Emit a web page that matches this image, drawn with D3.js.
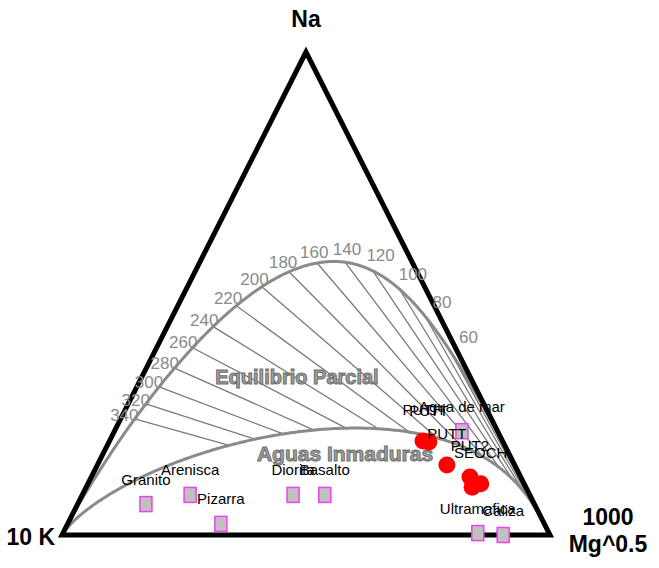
<!DOCTYPE html>
<html>
<head>
<meta charset="utf-8">
<script src="https://cdn.jsdelivr.net/npm/d3@7"></script>
<style>
  html, body { margin: 0; padding: 0; background: #ffffff; }
  svg { display: block; font-family: "Liberation Sans", Arial, Helvetica, sans-serif; }
</style>
</head>
<body>
<svg id="chart" width="659" height="568"></svg>
<script>
// Isotherms (°C) marked along the full-equilibrium line
const isotherms = [340, 320, 300, 280, 260, 240, 220, 200, 180, 160, 140, 120, 100, 80, 60];

// Isochemical rock dissolution compositions (% of Na/1000, K/100, Mg^0.5)
const rockNames = ["Granito", "Arenisca", "Pizarra", "Diorita", "Basalto", "Ultramafica", "Caliza", "Agua de mar"];
const rockNa = [6.4, 8.3, 2.3, 8.3, 8.3, 0.4, 0.0, 21.5];
const rockK  = [79.6, 69.6, 66.3, 48.5, 42.0, 14.6, 9.6, 7.3];
const rockMg = [14.0, 22.1, 31.4, 43.2, 49.7, 85.0, 90.4, 71.2];

// Water samples (% of Na/1000, K/100, Mg^0.5)
const sampleNames = ["PUTH", "PUTT", "PUTT", "PUT2", "SEOCH", ""];
const sampleNa = [19.5, 19.3, 14.5, 12.0, 10.6, 9.9];
const sampleK  = [16.3, 15.2, 13.9, 10.4, 8.9, 11.0];
const sampleMg = [64.3, 65.6, 71.7, 77.6, 80.6, 79.1];

// Corner titles
const titleNa = "Na";
const titleK = "10 K";
const titleMg = ["1000", "Mg^0.5"];

// Field labels
const fieldLabels = ["Equilibrio Parcial", "Aguas Inmaduras"];

const svg = d3.select("#chart");

// Ternary projection: Na at apex, K bottom-left, Mg bottom-right
const xScale = d3.scaleLinear().domain([0, 1]).range([62, 550]);
const yScale = d3.scaleLinear().domain([0, 1]).range([535, 52]);
function project(na, k, mg) {
  const s = na + k + mg;
  const a = na / s, c = mg / s;
  return [xScale(c + a / 2), yScale(a)];
}
const vNa = project(1, 0, 0), vK = project(0, 1, 0), vMg = project(0, 0, 1);

// Giggenbach (1988) geothermometers
function fromRatios(naK, k2mg) {
  // components Na/1000 : K/100 : sqrt(Mg), with K/100 fixed at 1
  return project(naK / 10, 1, 100 / Math.sqrt(k2mg));
}
function fullEquilibrium(tC) {
  const T = tC + 273.15;
  return fromRatios(Math.pow(10, 1390 / T - 1.75), Math.pow(10, 14.0 - 4410 / T));
}
function immatureLimit(tC) {
  const T = tC + 273.15;
  const lkn = 1.75 - 1390 / T;          // log(K/Na)
  const lkm = (2.0 + lkn) / 0.315;      // maturity index = 2.0
  return fromRatios(Math.pow(10, -lkn), Math.pow(10, lkm));
}

const u = d3.range(0.3, 5.31, 0.005);   // 1000/T(K)
const tSweep = u.map(v => 1000 / v - 273.15);
const upperPts = [vK, ...tSweep.map(fullEquilibrium), vMg];
const lowerPts = [vK, ...tSweep.map(immatureLimit), vMg];

const line = d3.line().curve(d3.curveLinear);

// Na-K isotherms between the two curves
svg.append("g")
  .selectAll("line")
  .data(isotherms)
  .join("line")
  .attr("x1", t => fullEquilibrium(t)[0])
  .attr("y1", t => fullEquilibrium(t)[1])
  .attr("x2", t => immatureLimit(t)[0])
  .attr("y2", t => immatureLimit(t)[1])
  .attr("stroke", "#7a7a7a")
  .attr("stroke-width", 1.3);

// Full equilibrium and immature-water curves
svg.append("path").attr("d", line(upperPts))
  .attr("fill", "none").attr("stroke", "#8a8a8a").attr("stroke-width", 3);
svg.append("path").attr("d", line(lowerPts))
  .attr("fill", "none").attr("stroke", "#8a8a8a").attr("stroke-width", 3);

// Triangle frame
svg.append("path")
  .attr("d", line([vNa, vK, vMg]) + "Z")
  .attr("fill", "none")
  .attr("stroke", "#000")
  .attr("stroke-width", 5)
  .attr("stroke-linejoin", "miter");

// Isotherm labels: on the hot side they continue the isotherm, on the
// cool side they sit off the curve along its outward normal
svg.append("g")
  .selectAll("text")
  .data(isotherms)
  .join("text")
  .each(function (t) {
    const p = fullEquilibrium(t);
    const p1 = fullEquilibrium(t + 2), p2 = fullEquilibrium(t - 2);
    let dx = p2[0] - p1[0], dy = p2[1] - p1[1];
    const len = Math.hypot(dx, dy);
    dx /= len; dy /= len;
    let nx = dy, ny = -dx;
    if (ny > 0) { nx = -nx; ny = -ny; }
    let ix = p[0] - vMg[0], iy = p[1] - vMg[1];
    const il = Math.hypot(ix, iy);
    ix /= il; iy /= il;
    let ox, oy, d;
    if (nx >= 0) {
      ox = nx; oy = ny; d = 11 + 14 * nx;
    } else {
      const w = -nx;
      ox = nx * (1 - w) + ix * w; oy = ny * (1 - w) + iy * w;
      const ol = Math.hypot(ox, oy);
      ox /= ol; oy /= ol; d = 11;
    }
    d3.select(this)
      .attr("x", p[0] + ox * d)
      .attr("y", p[1] + oy * d)
      .attr("dy", "0.35em");
  })
  .attr("text-anchor", "middle")
  .attr("font-size", 17)
  .attr("fill", "#8a8a8a")
  .text(t => t);

// Field labels
const fieldPos = [project(32.7, 35.5, 31.8), project(16.8, 33.6, 49.6)];
svg.append("g")
  .selectAll("text")
  .data(fieldLabels)
  .join("text")
  .attr("x", (d, i) => fieldPos[i][0])
  .attr("y", (d, i) => fieldPos[i][1])
  .attr("dy", "0.35em")
  .attr("text-anchor", "middle")
  .attr("font-size", (d, i) => i === 0 ? 20 : 21)
  .attr("font-weight", "bold")
  .attr("fill", "#a0a0a0")
  .attr("stroke", "#6e6e6e")
  .attr("stroke-width", 1)
  .text(d => d);

// Rock compositions
const rocks = rockNames.map((n, i) => ({ name: n, p: project(rockNa[i], rockK[i], rockMg[i]) }));
const rg = svg.append("g");
rg.selectAll("rect")
  .data(rocks)
  .join("rect")
  .attr("x", d => d.p[0] - 6)
  .attr("y", d => d.p[1] - 7.5)
  .attr("width", 12)
  .attr("height", 15)
  .attr("fill", "#c0c0c0")
  .attr("stroke", "#f040f0")
  .attr("stroke-width", 1.5);

// Water samples
const samples = sampleNames.map((n, i) => ({ name: n, p: project(sampleNa[i], sampleK[i], sampleMg[i]) }));
svg.append("g")
  .selectAll("circle")
  .data(samples)
  .join("circle")
  .attr("cx", d => d.p[0])
  .attr("cy", d => d.p[1])
  .attr("r", 8.5)
  .attr("fill", "#ff0000");

// Point labels
rg.selectAll("text")
  .data(rocks)
  .join("text")
  .attr("x", d => d.p[0])
  .attr("y", d => d.p[1] - 19.5)
  .attr("text-anchor", "middle")
  .attr("font-size", 15)
  .attr("fill", "#000")
  .text(d => d.name);

svg.append("g")
  .selectAll("text")
  .data(samples)
  .join("text")
  .attr("x", d => d.p[0])
  .attr("y", d => d.p[1] - 26)
  .attr("text-anchor", "middle")
  .attr("font-size", 15)
  .attr("fill", "#000")
  .text(d => d.name);

// Corner titles
const tg = svg.append("g").attr("font-weight", "bold").attr("font-size", 23).attr("fill", "#000");
tg.append("text").attr("x", vNa[0]).attr("y", vNa[1] - 25).attr("text-anchor", "middle").text(titleNa);
tg.append("text").attr("x", vK[0] - 7).attr("y", vK[1] + 10).attr("text-anchor", "end").text(titleK);
tg.selectAll(".mg")
  .data(titleMg)
  .join("text")
  .attr("class", "mg")
  .attr("x", vMg[0] + 58)
  .attr("y", (d, i) => vMg[1] - 10 + i * 27)
  .attr("text-anchor", "middle")
  .text(d => d);
</script>
</body>
</html>
